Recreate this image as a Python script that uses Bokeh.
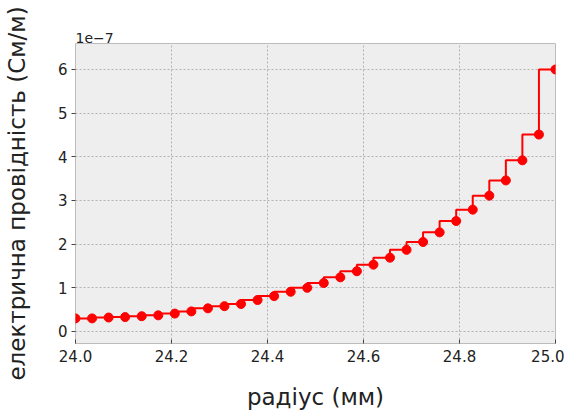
from bokeh.plotting import figure
from bokeh.models import Range1d, FixedTicker, NumeralTickFormatter
from bokeh.embed import file_html
from bokeh.resources import INLINE

# radius (mm)
radius = [24.0, 24.0345, 24.069, 24.1034, 24.1379, 24.1724, 24.2069, 24.2414,
          24.2759, 24.3103, 24.3448, 24.3793, 24.4138, 24.4483, 24.4828,
          24.5172, 24.5517, 24.5862, 24.6207, 24.6552, 24.6897, 24.7241,
          24.7586, 24.7931, 24.8276, 24.8621, 24.8966, 24.931, 24.9655, 25.0]
# conductivity, in units of 1e-7 S/m
sigma = [0.30, 0.30, 0.32, 0.33, 0.35, 0.37, 0.41, 0.46, 0.53, 0.58,
         0.63, 0.72, 0.81, 0.91, 1.00, 1.11, 1.24, 1.38, 1.53, 1.69,
         1.87, 2.05, 2.27, 2.53, 2.79, 3.11, 3.46, 3.92, 4.51, 6.00]
x_ticks = [24.0, 24.2, 24.4, 24.6, 24.8, 25.0]
y_ticks = [0, 1, 2, 3, 4, 5, 6]

p = figure(width=564, height=412, output_backend="svg", toolbar_location=None,
           x_range=Range1d(24.0, 25.0), y_range=Range1d(-0.275, 6.595),
           min_border_left=71, min_border_right=9, min_border_top=43,
           min_border_bottom=69, title="1e\u22127")

p.title.text_font = "DejaVu Sans"
p.title.text_font_size = "14px"
p.title.text_font_style = "normal"
p.title.text_color = "#222222"
p.title.align = "left"
p.title.standoff = 2

p.background_fill_color = "#eeeeee"
p.border_fill_color = "white"
p.outline_line_color = "#bcbcbc"
p.outline_line_width = 1

p.step(radius, sigma, mode="before", line_color="#ff0000", line_width=2)
p.scatter(radius, sigma, size=9, color="#ff0000")

p.xaxis.ticker = FixedTicker(ticks=x_ticks)
p.yaxis.ticker = FixedTicker(ticks=y_ticks)
p.xaxis.formatter = NumeralTickFormatter(format="0.0")
p.yaxis.formatter = NumeralTickFormatter(format="0")

for ax in (p.xaxis[0], p.yaxis[0]):
    ax.axis_line_color = None
    ax.minor_tick_line_color = None
    ax.major_tick_line_color = "#444444"
    ax.major_label_text_font = "DejaVu Sans"
    ax.major_label_text_font_size = "15px"
    ax.major_label_text_color = "#222222"
    ax.axis_label_text_font = "DejaVu Sans"
    ax.axis_label_text_font_size = "23px"
    ax.axis_label_text_font_style = "normal"
    ax.axis_label_text_color = "#222222"

p.xaxis.major_tick_in = 4
p.xaxis.major_tick_out = 0
p.yaxis.major_tick_in = 0
p.yaxis.major_tick_out = 4
p.xaxis.major_label_standoff = 6
p.yaxis.major_label_standoff = 4
p.xaxis.axis_label = "радіус (мм)"
p.yaxis.axis_label = "електрична провідність (См/м)"
p.xaxis.axis_label_standoff = 19
p.yaxis.axis_label_standoff = 25

p.grid.grid_line_color = "#b2b2b2"
p.grid.grid_line_dash = "2 2"
p.grid.grid_line_width = 1

open("out.html", "w").write(file_html(p, INLINE))
